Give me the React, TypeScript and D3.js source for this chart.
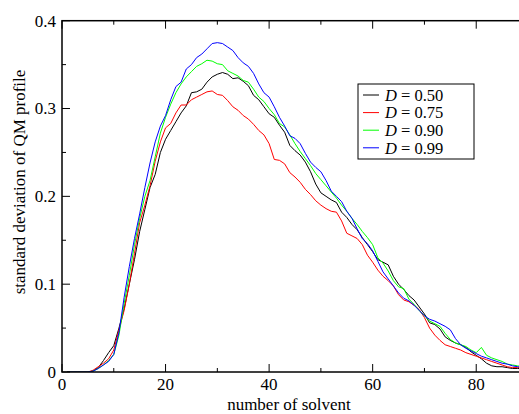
import React from "react";
import * as d3 from "d3";

const xValues: number[] = d3.range(1, 91);

const d050: number[] = [
  0, 0, 0, 0, 0, 0.001, 0.005, 0.013, 0.022, 0.03,
  0.05, 0.072, 0.1, 0.128, 0.16, 0.185, 0.21, 0.225, 0.25, 0.265,
  0.275, 0.285, 0.295, 0.303, 0.318, 0.319, 0.322, 0.33, 0.336, 0.339,
  0.341, 0.339, 0.334, 0.335, 0.331, 0.326, 0.315, 0.31, 0.302, 0.294,
  0.29, 0.281, 0.273, 0.258, 0.252, 0.247, 0.239, 0.228, 0.214, 0.204,
  0.2, 0.196, 0.193, 0.182, 0.176, 0.168, 0.162, 0.153, 0.145, 0.137,
  0.128, 0.125, 0.122, 0.109, 0.1, 0.094, 0.087, 0.082, 0.074, 0.066,
  0.056, 0.054, 0.049, 0.04, 0.036, 0.033, 0.031, 0.028, 0.023, 0.019,
  0.015, 0.01, 0.007, 0.006, 0.006, 0.005, 0.004, 0.004, 0.004, 0.004,
];

const d075: number[] = [
  0, 0, 0, 0, 0, 0.002, 0.006, 0.01, 0.015, 0.025,
  0.048, 0.07, 0.1, 0.135, 0.17, 0.19, 0.212, 0.24, 0.262, 0.278,
  0.283, 0.295, 0.304, 0.304, 0.31, 0.313, 0.316, 0.319, 0.32, 0.316,
  0.315, 0.309, 0.302, 0.298, 0.292, 0.288, 0.282, 0.275, 0.27, 0.26,
  0.242, 0.241, 0.237, 0.227, 0.222, 0.216, 0.208, 0.202, 0.195, 0.19,
  0.186, 0.183, 0.182, 0.172, 0.158, 0.155, 0.152, 0.145, 0.133, 0.125,
  0.116, 0.109, 0.104, 0.098, 0.088, 0.082, 0.08, 0.076, 0.071, 0.062,
  0.05, 0.042, 0.036, 0.031, 0.029, 0.027, 0.025, 0.022, 0.02, 0.018,
  0.016, 0.014, 0.012, 0.01, 0.008, 0.006, 0.005, 0.005, 0.005, 0.005,
];

const d090: number[] = [
  0, 0, 0, 0, 0, 0.001, 0.004, 0.008, 0.013, 0.02,
  0.042, 0.078, 0.11, 0.145, 0.175, 0.2, 0.218, 0.245, 0.272, 0.29,
  0.305, 0.318, 0.328, 0.336, 0.342, 0.348, 0.351, 0.355, 0.354, 0.351,
  0.35, 0.343, 0.34, 0.337, 0.332, 0.33, 0.322, 0.313, 0.308, 0.3,
  0.293, 0.283, 0.279, 0.27, 0.26, 0.251, 0.243, 0.235, 0.226, 0.219,
  0.212, 0.205, 0.198, 0.19, 0.183, 0.175, 0.168, 0.16, 0.153, 0.145,
  0.13, 0.124, 0.115, 0.104, 0.097, 0.095, 0.083, 0.077, 0.07, 0.064,
  0.058, 0.055, 0.052, 0.044, 0.037, 0.033, 0.031, 0.029, 0.025, 0.022,
  0.028, 0.019, 0.016, 0.014, 0.012, 0.009, 0.008, 0.007, 0.006, 0.006,
];

const d099: number[] = [
  0, 0, 0, 0, 0, 0.001, 0.004, 0.008, 0.012, 0.02,
  0.045, 0.085, 0.12, 0.152, 0.18, 0.21, 0.238, 0.262, 0.28, 0.292,
  0.31, 0.325, 0.33, 0.345, 0.35, 0.358, 0.362, 0.368, 0.374, 0.375,
  0.374, 0.37, 0.366, 0.358, 0.352, 0.348, 0.34, 0.328, 0.318, 0.313,
  0.302, 0.29, 0.28, 0.269, 0.266, 0.26, 0.249, 0.239, 0.233, 0.228,
  0.218, 0.206, 0.2, 0.194, 0.183, 0.175, 0.163, 0.152, 0.146, 0.138,
  0.126, 0.114, 0.106, 0.098, 0.09, 0.084, 0.081, 0.076, 0.07, 0.064,
  0.06, 0.058, 0.055, 0.052, 0.048, 0.038, 0.031, 0.027, 0.024, 0.021,
  0.018, 0.016, 0.014, 0.012, 0.01, 0.009, 0.007, 0.006, 0.005, 0.005,
];

const seriesLabels: string[] = ["0.50", "0.75", "0.90", "0.99"];
const seriesColors: string[] = ["#000000", "#ff0000", "#00ff00", "#0000ff"];
const seriesValues: number[][] = [d050, d075, d090, d099];

const xMajorTicks: number[] = [0, 20, 40, 60, 80];
const xMinorTicks: number[] = [10, 30, 50, 70, 90];
const yMajorTicks: number[] = [0, 0.1, 0.2, 0.3, 0.4];
const yMinorTicks: number[] = [0.05, 0.15, 0.25, 0.35];
const yTickLabels: string[] = ["0", "0.1", "0.2", "0.3", "0.4"];

export default function App() {
  const W = 519;
  const H = 414;
  const left = 62;
  const right = 528;
  const top = 20.7;
  const bottom = 372;
  const x = d3.scaleLinear().domain([0, 90]).range([left, right]);
  const y = d3.scaleLinear().domain([0, 0.4]).range([bottom, top]);
  const line = d3
    .line<[number, number]>()
    .x((d) => x(d[0]))
    .y((d) => y(d[1]));
  const font = "'Liberation Serif', 'Times New Roman', serif";
  const major = 8;
  const minor = 4;

  return (
    <svg
      width={W}
      height={H}
      style={{ position: "absolute", left: 0, top: 0, background: "#fff" }}
      fontFamily={font}
    >
      <rect x={0} y={0} width={W} height={H} fill="#fff" />
      <defs>
        <clipPath id="plotclip">
          <rect x={left} y={top} width={right - left} height={bottom - top} />
        </clipPath>
      </defs>
      <g clipPath="url(#plotclip)">
        {seriesValues.map((vals, i) => (
          <path
            key={i}
            d={line(xValues.map((xv, j) => [xv, vals[j]] as [number, number])) || ""}
            fill="none"
            stroke={seriesColors[i]}
            strokeWidth={1}
          />
        ))}
      </g>
      <rect
        x={left}
        y={top}
        width={right - left}
        height={bottom - top}
        fill="none"
        stroke="#000"
        strokeWidth={1.5}
      />
      {xMajorTicks.map((t) => (
        <g key={"xm" + t}>
          <line x1={x(t)} x2={x(t)} y1={bottom} y2={bottom - major} stroke="#000" strokeWidth={1} />
          <line x1={x(t)} x2={x(t)} y1={top} y2={top + major} stroke="#000" strokeWidth={1} />
          <text x={x(t)} y={390} textAnchor="middle" fontSize={17} fill="#000">
            {t}
          </text>
        </g>
      ))}
      {xMinorTicks.map((t) => (
        <g key={"xn" + t}>
          <line x1={x(t)} x2={x(t)} y1={bottom} y2={bottom - minor} stroke="#000" strokeWidth={1} />
          <line x1={x(t)} x2={x(t)} y1={top} y2={top + minor} stroke="#000" strokeWidth={1} />
        </g>
      ))}
      {yMajorTicks.map((t, i) => (
        <g key={"ym" + t}>
          <line x1={left} x2={left + major} y1={y(t)} y2={y(t)} stroke="#000" strokeWidth={1} />
          <line x1={right} x2={right - major} y1={y(t)} y2={y(t)} stroke="#000" strokeWidth={1} />
          <text x={56} y={y(t)} dy="0.35em" textAnchor="end" fontSize={17} fill="#000">
            {yTickLabels[i]}
          </text>
        </g>
      ))}
      {yMinorTicks.map((t) => (
        <g key={"yn" + t}>
          <line x1={left} x2={left + minor} y1={y(t)} y2={y(t)} stroke="#000" strokeWidth={1} />
          <line x1={right} x2={right - minor} y1={y(t)} y2={y(t)} stroke="#000" strokeWidth={1} />
        </g>
      ))}
      <text x={289} y={410} textAnchor="middle" fontSize={17} fill="#000">
        number of solvent
      </text>
      <text
        transform={`translate(25, 182) rotate(-90)`}
        textAnchor="middle"
        fontSize={17}
        fill="#000"
      >
        standard deviation of QM profile
      </text>
      <rect x={358} y={84} width={116} height={75} fill="#fff" stroke="#000" strokeWidth={1} />
      {seriesLabels.map((lab, i) => {
        const cy = 95 + i * 17.6;
        return (
          <g key={"lg" + i}>
            <line x1={363} x2={379} y1={cy} y2={cy} stroke={seriesColors[i]} strokeWidth={1} />
            <text x={385} y={cy} dy="0.35em" fontSize={16.5} fill="#000">
              <tspan fontStyle="italic">D</tspan>
              <tspan> = {lab}</tspan>
            </text>
          </g>
        );
      })}
    </svg>
  );
}
